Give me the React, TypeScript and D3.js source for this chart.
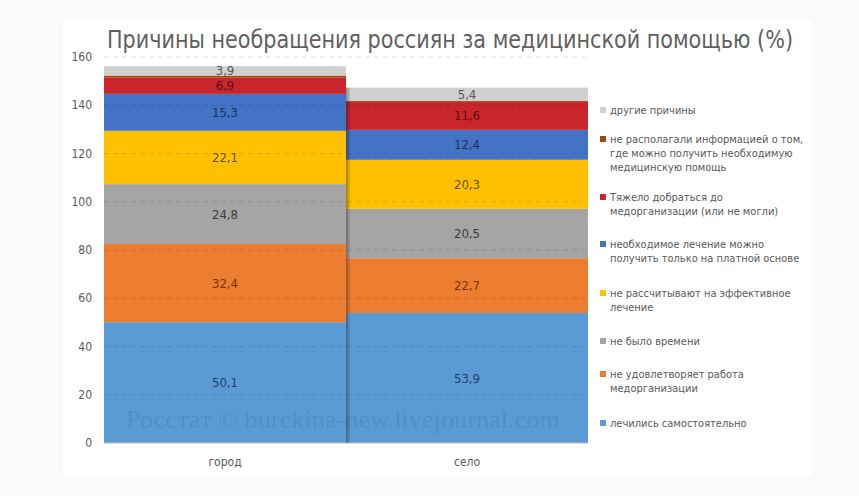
import React from "react";
import * as d3 from "d3";

const categories = ["город", "село"];
const seriesNames = [
  "лечились самостоятельно",
  "не удовлетворяет работа медорганизации",
  "не было времени",
  "не рассчитывают на эффективное лечение",
  "необходимое лечение можно получить только на платной основе",
  "Тяжело добраться до медорганизации (или не могли)",
  "не располагали информацией о том, где можно получить необходимую медицинскую помощь",
  "другие причины",
];
const cityValues = [50.1, 32.4, 24.8, 22.1, 15.3, 6.9, 0.7, 3.9];
const villageValues = [53.9, 22.7, 20.5, 20.3, 12.4, 11.6, 0.5, 5.4];
const showLabel = [true, true, true, true, true, true, false, true];
const yTicks = [0, 20, 40, 60, 80, 100, 120, 140, 160];
const legendLines = [
  ["другие причины"],
  ["не располагали информацией о том,", "где можно получить необходимую", "медицинскую помощь"],
  ["Тяжело добраться до", "медорганизации (или не могли)"],
  ["необходимое лечение можно", "получить только на платной основе"],
  ["не рассчитывают на эффективное", "лечение"],
  ["не было времени"],
  ["не удовлетворяет работа", "медорганизации"],
  ["лечились самостоятельно"],
];
const legendOrder = [7, 6, 5, 4, 3, 2, 1, 0];
const legendY = [110, 139, 197, 244, 293, 341, 374, 423];

const colors = ["#5b9bd5", "#ed7d31", "#a5a5a5", "#ffc000", "#4472c4", "#c8252d", "#9e480e", "#d0d0d0"];
const labelColors = ["#1f3f66", "#7a3208", "#3a3a3a", "#6b5000", "#1b2f5c", "#5e0d12", "#4a2208", "#555555"];

const W = 859;
const H = 496;
const plot = { left: 104, right: 588, top: 57, bottom: 443 };
const FONT = "'Liberation Sans Narrow', 'DejaVu Sans Condensed', 'Roboto', sans-serif";

export default function App() {
  const x = d3.scaleBand().domain(categories).range([plot.left, plot.right]).padding(0);
  const y = d3.scaleLinear().domain([0, 160]).range([plot.bottom, plot.top]);

  const rows = categories.map((c, i) => {
    const vals = i === 0 ? cityValues : villageValues;
    const o: any = { cat: c };
    vals.forEach((v, k) => (o["s" + k] = v));
    return o;
  });
  const keys = seriesNames.map((_, k) => "s" + k);
  const stacked = d3.stack().keys(keys)(rows);

  return (
    <svg width={W} height={H} style={{ position: "absolute", left: 0, top: 0 }}>
      <defs>
        <linearGradient id="shadow" x1="0" x2="1" y1="0" y2="0">
          <stop offset="0" stopColor="#000" stopOpacity="0.35" />
          <stop offset="1" stopColor="#000" stopOpacity="0" />
        </linearGradient>
      </defs>
      <rect x={0} y={0} width={W} height={H} fill="#fafafa" />
      <rect x={63} y={20} width={749} height={456} fill="#ffffff" />
      <text
        x={107}
        y={48}
        fontFamily={FONT}
        fontSize={25}
        fill="#5f5f5f"
        textLength={686}
        lengthAdjust="spacingAndGlyphs"
      >
        Причины необращения россиян за медицинской помощью (%)
      </text>

      {stacked.map((layer, k) =>
        layer.map((d, i) => (
          <rect
            key={k + "-" + i}
            x={x(categories[i])}
            y={y(d[1])}
            width={x.bandwidth()}
            height={y(d[0]) - y(d[1])}
            fill={colors[k]}
          />
        ))
      )}

      <rect x={x(categories[1])} y={y(d3.sum(villageValues))} width={5} height={plot.bottom - y(d3.sum(villageValues))} fill="url(#shadow)" />

      {yTicks.map((t) => (
        <g key={t}>
          <line
            x1={plot.left}
            x2={plot.right}
            y1={y(t)}
            y2={y(t)}
            stroke={t === 0 ? "#bdbdbd" : "#000"}
            strokeOpacity={t === 0 ? 1 : 0.12}
            strokeDasharray={t === 0 ? undefined : "5,4"}
            strokeWidth={1}
          />
          <text x={92} y={y(t)} dy="0.35em" textAnchor="end" fontFamily={FONT} fontSize={12} fill="#595959">
            {t}
          </text>
        </g>
      ))}

      {stacked.map((layer, k) =>
        showLabel[k]
          ? layer.map((d, i) => (
              <text
                key={"l" + k + "-" + i}
                x={(x(categories[i]) as number) + x.bandwidth() / 2}
                y={(y(d[0]) + y(d[1])) / 2}
                dy="0.35em"
                textAnchor="middle"
                fontFamily={FONT}
                fontSize={13}
                fill={labelColors[k]}
              >
                {String(i === 0 ? cityValues[k] : villageValues[k]).replace(".", ",")}
              </text>
            ))
          : null
      )}

      <text
        x={(plot.left + plot.right) / 2 - 3}
        y={428}
        textAnchor="middle"
        fontFamily="'Liberation Serif', 'DejaVu Serif', serif"
        fontSize={26}
        fill="#2a5a9a"
        fillOpacity={0.2}
        textLength={434}
        lengthAdjust="spacingAndGlyphs"
      >
        Росстат © burckina-new.livejournal.com
      </text>

      {categories.map((c) => (
        <text
          key={c}
          x={(x(c) as number) + x.bandwidth() / 2}
          y={462}
          dy="0.35em"
          textAnchor="middle"
          fontFamily={FONT}
          fontSize={12}
          fill="#595959"
        >
          {c}
        </text>
      ))}

      {legendOrder.map((k, j) => (
        <g key={"lg" + k}>
          <rect x={600} y={legendY[j] - 3} width={6} height={6} fill={colors[k]} />
          {legendLines[j].map((line, li) => (
            <text
              key={li}
              x={610}
              y={legendY[j] + li * 14}
              dy="0.35em"
              fontFamily={FONT}
              fontSize={11}
              fill="#595959"
            >
              {line}
            </text>
          ))}
        </g>
      ))}
    </svg>
  );
}
